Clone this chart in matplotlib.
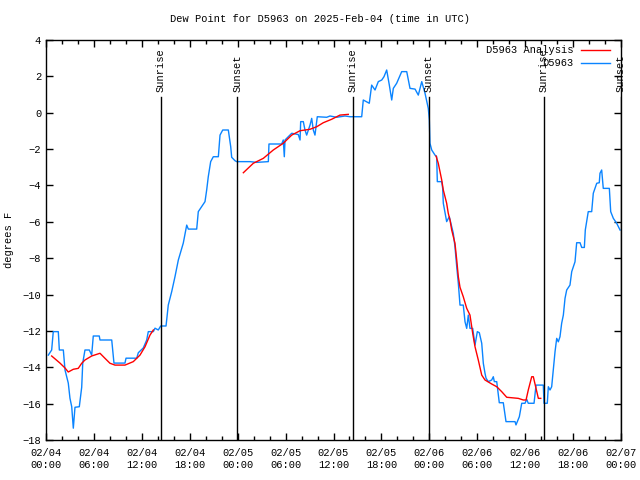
import matplotlib
matplotlib.use("Agg")
import matplotlib.pyplot as plt
from matplotlib.ticker import MultipleLocator

# ----------------------------
# Data (hours since 2025-02-04 00:00 UTC, dew point in F)
# ----------------------------
obs_t = [
    0.29, 0.71, 0.91, 1.54, 1.67, 2.17, 2.38, 2.79, 3.00, 3.22, 3.42, 3.63, 4.17, 4.35, 4.47,
    4.60, 4.88, 5.42, 5.72, 5.92, 6.67, 6.76, 8.23, 8.51, 9.89, 10.02, 11.36, 11.56, 12.18,
    12.61, 12.81, 13.44, 13.65, 14.06, 14.36, 15.03, 15.31, 15.74, 16.15, 16.57, 17.19, 17.62,
    17.82, 18.87, 19.07, 19.91, 20.12, 20.32, 20.62, 20.95, 21.58, 21.79, 22.13, 22.83, 23.13,
    23.25, 23.67, 23.88, 25.54, 26.38, 27.84, 27.92, 29.51, 29.71, 29.84, 29.93, 30.77, 31.59,
    31.81, 31.89, 32.22, 32.43, 32.64, 33.06, 33.27, 33.47, 33.68, 33.97, 35.15, 35.56, 36.40,
    37.44, 38.07, 39.53, 39.73, 40.48, 40.78, 41.20, 41.61, 42.04, 42.32, 42.66, 42.99, 43.29,
    43.49, 43.91, 44.54, 45.17, 45.58, 46.21, 46.62, 47.05, 47.46, 47.87, 48.00, 48.08, 48.30,
    48.71, 48.92, 49.00, 49.55, 49.67, 49.75, 50.17, 50.50, 50.80, 51.00, 51.21, 51.43, 51.63,
    51.84, 52.25, 52.47, 52.68, 52.88, 53.09, 53.43, 53.72, 54.01, 54.26, 54.56, 54.76, 54.97,
    55.10, 55.38, 55.81, 56.01, 56.14, 56.44, 56.76, 57.26, 57.60, 58.73, 58.85, 59.02, 59.27,
    59.57, 59.98, 60.19, 60.39, 61.11, 61.36, 62.27, 62.36, 62.77, 62.90, 63.11, 63.32, 63.52,
    63.74, 63.95, 64.15, 64.36, 64.57, 64.78, 64.99, 65.20, 65.61, 65.83, 66.24, 66.45, 66.87,
    67.08, 67.41, 67.53, 67.90, 68.33, 68.53, 68.96, 69.28, 69.37, 69.58, 69.78, 70.54, 70.71,
    71.04, 71.46, 71.88,
]
obs_v = [
    -13.33, -13.05, -12.04, -12.04, -13.05, -13.05, -14.15, -14.87, -15.70, -16.17, -17.35,
    -16.20, -16.17, -15.50, -15.10, -13.77, -13.05, -13.05, -13.33, -12.28, -12.28, -12.50,
    -12.50, -13.77, -13.77, -13.50, -13.50, -13.20, -12.94, -12.50, -12.04, -12.04, -11.85,
    -11.95, -11.73, -11.73, -10.58, -9.84, -9.02, -8.10, -7.17, -6.18, -6.40, -6.40, -5.44,
    -4.89, -4.25, -3.52, -2.69, -2.42, -2.42, -1.23, -0.95, -0.95, -1.87, -2.45, -2.64, -2.69,
    -2.69, -2.73, -2.69, -1.72, -1.72, -1.50, -2.42, -1.50, -1.13, -1.20, -1.50, -0.49, -0.49,
    -0.95, -1.23, -0.68, -0.31, -0.95, -1.23, -0.22, -0.25, -0.18, -0.25, -0.18, -0.22, -0.22,
    0.70, 0.52, 1.52, 1.25, 1.71, 1.80, 1.98, 2.35, 1.52, 0.70, 1.34, 1.62, 2.26, 2.26, 1.34,
    1.30, 0.97, 1.71, 1.07, 0.24, -0.40, -1.68, -2.05, -2.33, -2.42, -3.79, -3.79, -4.16,
    -4.98, -5.99, -5.72, -6.27, -6.63, -7.37, -8.47, -9.38, -10.58, -10.58, -11.50, -11.86,
    -11.13, -11.86, -11.86, -12.78, -12.04, -12.10, -12.68, -13.78, -14.33, -14.60, -14.79,
    -14.70, -14.52, -14.79, -14.79, -15.95, -15.95, -16.99, -16.99, -17.17, -16.99, -16.72,
    -15.98, -15.98, -15.76, -15.98, -15.98, -14.98, -14.98, -15.98, -15.98, -15.07, -15.25,
    -15.07, -14.15, -13.14, -12.41, -12.60, -12.32, -11.58, -11.13, -10.21, -9.75, -9.48,
    -8.74, -8.20, -7.15, -7.15, -7.41, -7.41, -6.45, -5.44, -5.44, -4.43, -3.88, -3.85,
    -3.33, -3.15, -4.16, -4.16, -5.44, -5.81, -6.08, -6.45,
]

# analysis series comes in three separate runs
ana1_t = [0.71, 1.75, 2.38, 2.79, 3.42, 4.04, 4.47, 4.88, 5.72, 6.76, 7.39, 8.01, 8.64,
          9.89, 10.93, 11.77, 12.40, 13.02, 13.44]
ana1_v = [-13.38, -13.77, -14.04, -14.26, -14.11, -14.06, -13.78, -13.60, -13.38, -13.23,
          -13.51, -13.78, -13.88, -13.88, -13.69, -13.33, -12.87, -12.23, -11.95]
ana2_t = [24.71, 25.96, 27.21, 28.46, 29.71, 30.77, 31.81, 33.06, 33.90, 34.72, 35.77,
          36.81, 37.85]
ana2_v = [-3.30, -2.78, -2.51, -2.05, -1.68, -1.23, -0.99, -0.91, -0.77, -0.55, -0.36,
          -0.13, -0.09]
ana3_t = [48.84, 49.12, 49.55, 49.75, 50.17, 50.37, 50.59, 50.80, 51.21, 51.43, 51.63,
          51.84, 52.25, 52.68, 53.09, 53.43, 53.72, 54.13, 54.56, 54.97, 55.81, 56.44,
          57.06, 57.69, 59.14, 59.77, 60.11, 60.39, 60.82, 61.02, 61.36, 61.65, 61.95]
ana3_v = [-2.38, -2.78, -3.70, -4.25, -4.98, -5.53, -5.90, -6.45, -7.18, -8.10, -9.02,
          -9.60, -10.12, -10.76, -11.13, -12.13, -12.87, -13.60, -14.43, -14.70, -14.92,
          -15.07, -15.34, -15.65, -15.71, -15.80, -15.80, -15.25, -14.52, -14.52, -15.16,
          -15.71, -15.71]

sun_t = [14.40, 23.93, 38.38, 47.95, 62.36, 71.98]
sun_lbl = ["Sunrise", "Sunset", "Sunrise", "Sunset", "Sunrise", "Sunset"]

xtick_pos = [0, 6, 12, 18, 24, 30, 36, 42, 48, 54, 60, 66, 72]
xtick_lbl = ["02/04\n00:00", "02/04\n06:00", "02/04\n12:00", "02/04\n18:00",
             "02/05\n00:00", "02/05\n06:00", "02/05\n12:00", "02/05\n18:00",
             "02/06\n00:00", "02/06\n06:00", "02/06\n12:00", "02/06\n18:00",
             "02/07\n00:00"]

# ----------------------------
# Style
# ----------------------------
plt.rcParams.update({
    "font.family": ["Liberation Mono", "DejaVu Sans Mono"],
    "font.size": 7.5,
    "axes.linewidth": 1.0,
})

BLUE = "#0a84ff"
RED = "#ff0000"

fig = plt.figure(figsize=(6.4, 4.8), dpi=100)
ax = fig.add_axes([46 / 640, 40 / 480, 575 / 640, 400 / 480])

ax.plot(obs_t, obs_v, color=BLUE, lw=1.0)
for tt, vv in [(ana1_t, ana1_v), (ana2_t, ana2_v), (ana3_t, ana3_v)]:
    ax.plot(tt, vv, color=RED, lw=1.0)

# sun event markers
for t, lbl in zip(sun_t, sun_lbl):
    ax.axvline(t, ymin=0, ymax=0.857, color="black", lw=1.0)
    ax.text(t, 0.87, lbl, transform=ax.get_xaxis_transform(), rotation=90,
            ha="center", va="bottom", fontsize=7.5)

ax.set_xlim(0, 72)
ax.set_ylim(-18, 4)
ax.set_xticks(xtick_pos, xtick_lbl)
ax.xaxis.set_minor_locator(MultipleLocator(2))
ax.yaxis.set_major_locator(MultipleLocator(2))
ax.tick_params(which="both", direction="in", top=True, right=True, width=1.0)
ax.tick_params(which="major", length=5)
ax.tick_params(which="minor", length=3)
ax.tick_params(axis="x", pad=6)

ax.set_ylabel("degrees F", labelpad=6)
fig.text(0.5, 1 - 19 / 480, "Dew Point for D5963 on 2025-Feb-04 (time in UTC)",
         ha="center", va="center", fontsize=7.5)

# gnuplot-style legend, text right-justified before the sample line
leg_rows = [("D5963 Analysis", RED, 0.975), ("D5963", BLUE, 0.9425)]
for txt, col, yf in leg_rows:
    ax.text(0.918, yf, txt, transform=ax.transAxes, ha="right", va="center")
    ax.plot([0.930, 0.981], [yf, yf], transform=ax.transAxes, color=col, lw=1.0,
            clip_on=False)

fig.savefig("out.png", dpi=100)
